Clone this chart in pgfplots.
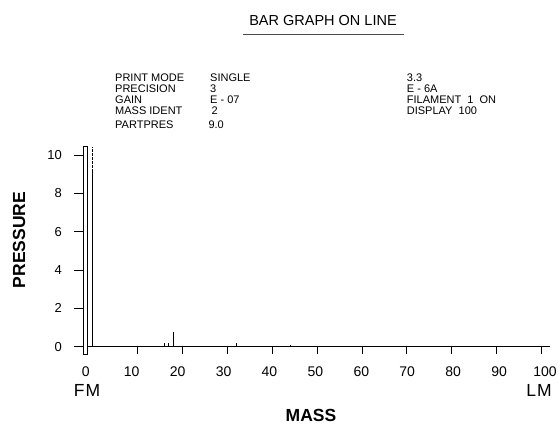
\documentclass[border=0pt]{standalone}
\usepackage{fontspec}
\setmainfont{Liberation Sans}
\usepackage{pgfplots}
\pgfplotsset{compat=1.18}

\newcommand{\fs}[1]{\fontsize{#1bp}{#1bp}\selectfont}

\begin{document}
\begin{tikzpicture}
\useasboundingbox (0,0) rectangle (558bp,424bp);

\begin{axis}[
    x=4.49bp, y=19.17bp,
    anchor=origin, at={(92.5bp,77.3bp)},
    xmin=-2.12, xmax=101.9, ymin=0, ymax=10.43,
    axis x line=bottom, axis y line=left,
    x axis line style={-, line width=0.8bp},
    y axis line style={draw=none},
    xtick={10,20,...,100}, ytick={0,2,...,10},
    xticklabels={}, yticklabels={},
    tick align=outside,
    xtick style={black, line width=0.8bp, /pgfplots/major tick length=7bp},
    ytick style={black, line width=0.8bp, /pgfplots/major tick length=9bp},
    clip=false,
]
\addplot[ycomb, black, line width=0.8bp, mark=none] coordinates {
    (0,9.13) (16,0.21) (17,0.21) (18,0.78) (32,0.18) (44,0.07)};
\addplot[black, line width=0.8bp, dash pattern=on 2.5bp off 1.5bp] coordinates {
    (0,9.13) (0,10.43)};
% FM marker box
\addplot[black, fill=white, line width=0.8bp] coordinates {
    (-2.12,-0.38) (-1.1,-0.38) (-1.1,10.43) (-2.12,10.43)} -- cycle;
\end{axis}

\begin{scope}[x=1bp, y=1bp]
% title
\node[font=\fs{14.5}] at (323,403.7) {BAR GRAPH ON LINE};
\draw[black!70, line width=1bp] (243,389.7) -- (404,389.7);

% info block
\begin{scope}[every node/.style={anchor=west, font=\fs{11}, inner sep=0pt}]
\node at (115,346) {PRINT MODE};
\node at (115,335) {PRECISION};
\node at (115,324) {GAIN};
\node at (115,313) {MASS IDENT};
\node at (115,299.5) {PARTPRES};
\node at (210,346) {SINGLE};
\node at (210,335) {3};
\node at (210,324) {E - 07};
\node at (211.5,313) {2};
\node at (208.3,299.5) {9.0};
\node at (406.7,346) {3.3};
\node at (406.7,335) {E - 6A};
\node at (406.7,324) {FILAMENT\ \ 1\ \ ON};
\node at (406.7,313) {DISPLAY\ \ 100};
\end{scope}

% y tick labels
\foreach \v in {0,2,...,10}
  \node[anchor=east, font=\fs{13}, inner sep=0pt] at (62,77.3+19.17*\v) {\v};
% x tick labels
\foreach \v in {0,10,...,100}
  \node[font=\fs{14}, inner sep=0pt] at (85.8+4.592*\v,52) {\v};

\node[font=\fs{17.5}] at (87,34) {F\kern1bp M};
\node[font=\fs{17.5}] at (539,34) {L\kern1bp M};
\node[font=\bfseries\fs{17.5}, inner sep=0pt] at (311,8.5) {MASS};
\node[font=\bfseries\fs{17.5}, rotate=90] at (19,184) {PRESSURE};
\end{scope}
\end{tikzpicture}
\end{document}
